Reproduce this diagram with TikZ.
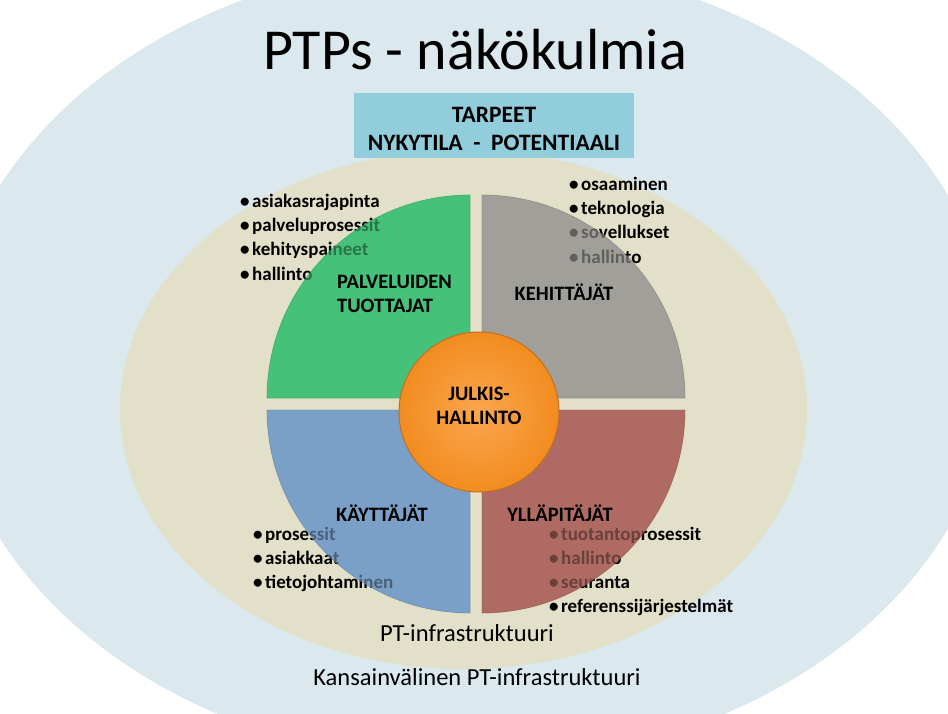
\documentclass[tikz,border=0pt]{standalone}
\usepackage{fontspec}
\setmainfont{Carlito}
\definecolor{outerblue}{HTML}{DBE8ED}
\definecolor{beige}{HTML}{E2E0C8}
\definecolor{segGreen}{HTML}{45C17A}
\definecolor{segGray}{HTML}{A09F99}
\definecolor{segBlue}{HTML}{7BA0C8}
\definecolor{segRed}{HTML}{AF6B63}
\definecolor{boxblue}{HTML}{92CDDC}
\definecolor{orangeA}{HTML}{FBA650}
\definecolor{orangeB}{HTML}{F28C1F}
\definecolor{orangeRim}{HTML}{C0701E}
\tikzset{
  bullettext/.style={anchor=base west, inner sep=0pt, font=\bfseries\fontsize{19}{24}\selectfont},
  seglabel/.style={inner sep=0pt, font=\bfseries\fontsize{20.5}{24}\selectfont, align=center},
  plaintext/.style={inner sep=0pt, anchor=base, font=\fontsize{24.5}{28}\selectfont},
}
\newcommand{\bul}{\makebox[12pt][l]{•}}
\newcommand{\greenseg}{(470,398) -- ++(-203,0) arc[start angle=180, end angle=270, radius=203] -- cycle}
\newcommand{\grayseg}{(482,398) -- ++(0,-203) arc[start angle=270, end angle=360, radius=203] -- cycle}
\newcommand{\redseg}{(482,410) -- ++(203,0) arc[start angle=0, end angle=90, radius=203] -- cycle}
\newcommand{\blueseg}{(470,410) -- ++(0,203) arc[start angle=90, end angle=180, radius=203] -- cycle}
\begin{document}
\begin{tikzpicture}[x=1pt,y=-1pt]
\useasboundingbox (0,0) rectangle (948,714);
\fill[white] (0,0) rectangle (948,714);
% ellipses
\fill[outerblue] (471,362) ellipse[x radius=524, y radius=402];
\fill[beige] (463.5,409.5) ellipse[x radius=343.5, y radius=259.5];
% segments (solid)
\fill[segGreen] \greenseg;
\fill[segGray] \grayseg;
\fill[segRed] \redseg;
\fill[segBlue] \blueseg;
% bullet lists
\node[bullettext] (tl1) at (240,208) {\bul asiakasrajapinta};
\node[bullettext] (tl2) at (240,232) {\bul palveluprosessit};
\node[bullettext] (tl3) at (240,256) {\bul kehityspaineet};
\node[bullettext] (tl4) at (240,280) {\bul hallinto};
\node[bullettext] (tr1) at (569,191) {\bul osaaminen};
\node[bullettext] (tr2) at (569,215) {\bul teknologia};
\node[bullettext] (tr3) at (569,239) {\bul sovellukset};
\node[bullettext] (tr4) at (569,263) {\bul hallinto};
\node[bullettext] (bl1) at (253,540) {\bul prosessit};
\node[bullettext] (bl2) at (253,564) {\bul asiakkaat};
\node[bullettext] (bl3) at (253,588) {\bul tietojohtaminen};
\node[bullettext] (br1) at (549,540) {\bul tuotantoprosessit};
\node[bullettext] (br2) at (549,564) {\bul hallinto};
\node[bullettext] (br3) at (549,588) {\bul seuranta};
\node[bullettext] (br4) at (549,612) {\bul referenssijärjestelmät};
% segments overlay (tints the text underneath)
\fill[segGreen, fill opacity=0.6] \greenseg;
\fill[segGray, fill opacity=0.6] \grayseg;
\fill[segRed, fill opacity=0.6] \redseg;
\fill[segBlue, fill opacity=0.6] \blueseg;
\draw[segGreen!80!black, line width=0.8pt, opacity=0.5] \greenseg;
\draw[segGray!80!black, line width=0.8pt, opacity=0.5] \grayseg;
\draw[segRed!80!black, line width=0.8pt, opacity=0.5] \redseg;
\draw[segBlue!80!black, line width=0.8pt, opacity=0.5] \blueseg;
% segment labels
\node[seglabel, anchor=base west, align=left] (pt) at (337,312) {PALVELUIDEN\\TUOTTAJAT};
\node[seglabel, anchor=base] (keh) at (564,301) {KEHITTÄJÄT};
\node[seglabel, anchor=base] (kay) at (382,521) {KÄYTTÄJÄT};
\node[seglabel, anchor=base] (yll) at (560,521) {YLLÄPITÄJÄT};
% centre circle
\node[circle, minimum size=160pt, inner sep=0pt, draw=orangeRim, line width=1pt,
      inner color=orangeA, outer color=orangeB] (jh) at (479,412) {};
\node[seglabel] (jhtext) at (479,406) {JULKIS-\\HALLINTO};
% needs box
\node[fill=boxblue, minimum width=280pt, minimum height=65pt, inner sep=0pt] (tarpeet) at (494,125.5) {};
\node[inner sep=0pt, font=\bfseries\fontsize{23.5}{28}\selectfont, align=center] (tarpeettext) at (494,129)
      {TARPEET\\NYKYTILA\ \ -\ \ POTENTIAALI};
% title
\node[inner sep=0pt, anchor=base, font=\fontsize{58}{60}\selectfont] (title) at (475,70) {PTPs - näkökulmia};
% bottom texts
\node[plaintext] (pti) at (467,641) {PT-infrastruktuuri};
\node[plaintext] (kpti) at (477,685) {Kansainvälinen PT-infrastruktuuri};
\end{tikzpicture}
\end{document}
